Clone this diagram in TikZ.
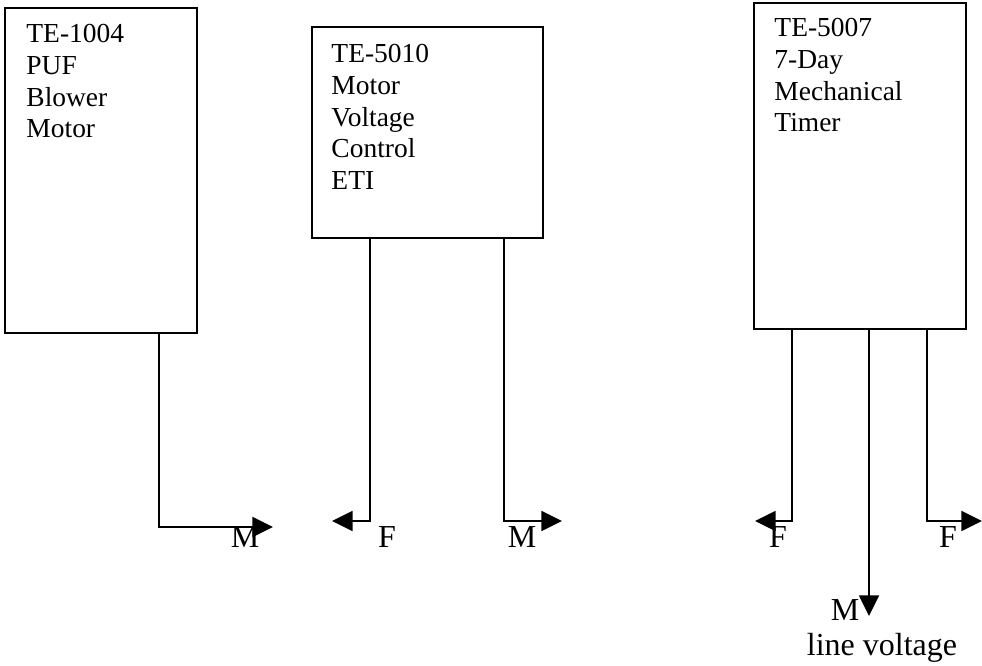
\documentclass[tikz,border=0pt]{standalone}
\usepackage{fontspec}
\setmainfont{Liberation Serif}
\usetikzlibrary{positioning,arrows.meta}
\tikzset{
  unit/.style={draw,line width=1.2pt,inner sep=0pt},
  unittext/.style={align=left,inner sep=0pt,anchor=north west,
    font=\fontsize{20.6}{23.8}\selectfont},
  wire/.style={line width=1.2pt,-{Triangle[length=15.5pt,width=15pt]}},
  lead/.style={anchor=base,inner sep=0pt,font=\fontsize{24}{28}\selectfont}
}
\begin{document}
\begin{tikzpicture}[x=0.75pt,y=-0.75pt]
\useasboundingbox (0,0) rectangle (982,666);
% boxes
\node[unit,minimum width=144pt,minimum height=243.75pt] (b1) at (101,170.5) {};
\node[unit,minimum width=173.25pt,minimum height=158.25pt] (b2) at (427.5,132.5) {};
\node[unit,minimum width=159pt,minimum height=244.5pt] (b3) at (860,166) {};
\node[unittext,below right=12.75pt and 16.5pt of b1.north west] (t1) {TE-1004\\PUF\\Blower\\Motor};
\node[unittext,below right=13.5pt and 15pt of b2.north west] (t2) {TE-5010\\Motor\\Voltage\\Control\\ETI};
\node[unittext,below right=12pt and 15.75pt of b3.north west] (t3) {TE-5007\\7-Day\\Mechanical\\Timer};
% arrow ends
\coordinate (e1) at (273,527);
\coordinate (e2) at (332,521);
\coordinate (e3) at (562,521);
\coordinate (e4) at (755,521);
\coordinate (e5) at (982,521);
\coordinate (e6) at (869,616);
% wires
\draw[wire] ([xshift=43.5pt]b1.south) |- (e1);
\draw[wire] ([xshift=-43.125pt]b2.south) |- (e2);
\draw[wire] ([xshift=57.375pt]b2.south) |- (e3);
\draw[wire] ([xshift=-51pt]b3.south) |- (e4);
\draw[wire] ([xshift=50.25pt]b3.south) |- (e5);
\draw[wire] ([xshift=6.75pt]b3.south) -- (e6);
% labels
\node[lead] (l1) at (245,547) {M};
\node[lead] (l2) at (387,547) {F};
\node[lead] (l3) at (522,547) {M};
\node[lead] (l4) at (778,547) {F};
\node[lead] (l5) at (948,547) {F};
\node[lead] (l6) at (845,620) {M};
\node[lead] (l7) at (882,655) {line voltage};
\end{tikzpicture}
\end{document}
